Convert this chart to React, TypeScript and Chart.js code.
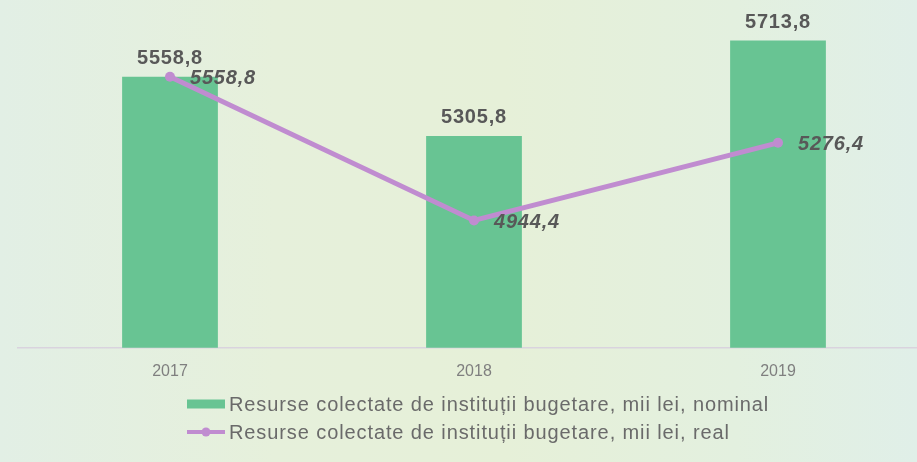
import React, { useEffect, useRef } from "react";
import { Chart, registerables } from "chart.js";

Chart.register(...registerables);

const categories = ["2017", "2018", "2019"];
const nominalValues = [5558.8, 5305.8, 5713.8];
const realValues = [5558.8, 4944.4, 5276.4];
const nominalLabel = "Resurse colectate de instituții bugetare, mii lei, nominal";
const realLabel = "Resurse colectate de instituții bugetare, mii lei, real";

const GREEN = "#68c493";
const PURPLE = "#c08cd0";
const LABEL_COLOR = "#585858";

const fmt = (v: number) => v.toFixed(1).replace(".", ",");

const labelsPlugin = {
  id: "valueLabels",
  afterDatasetsDraw(chart: any) {
    const ctx = chart.ctx;
    ctx.save();
    (ctx as any).letterSpacing = "0.8px";
    const barMeta = chart.getDatasetMeta(1);
    ctx.fillStyle = LABEL_COLOR;
    ctx.font = "bold 20px 'Liberation Sans', Arial, sans-serif";
    ctx.textAlign = "center";
    ctx.textBaseline = "middle";
    barMeta.data.forEach((el: any, i: number) => {
      ctx.fillText(fmt(nominalValues[i]), el.x, el.y - 18);
    });
    const lineMeta = chart.getDatasetMeta(0);
    ctx.font = "italic bold 20px 'Liberation Sans', Arial, sans-serif";
    ctx.textAlign = "left";
    lineMeta.data.forEach((el: any, i: number) => {
      ctx.fillText(fmt(realValues[i]), el.x + 20, el.y + 2);
    });
    ctx.restore();
  },
};

const legendPlugin = {
  id: "customLegend",
  afterDraw(chart: any) {
    const ctx = chart.ctx;
    ctx.save();
    const x0 = 187;
    const y1 = 404;
    const y2 = 432;
    ctx.fillStyle = GREEN;
    ctx.fillRect(x0, y1 - 4.5, 38, 9);
    ctx.strokeStyle = PURPLE;
    ctx.lineWidth = 4;
    ctx.beginPath();
    ctx.moveTo(x0, y2);
    ctx.lineTo(x0 + 38, y2);
    ctx.stroke();
    ctx.fillStyle = PURPLE;
    ctx.beginPath();
    ctx.arc(x0 + 19, y2, 4.5, 0, Math.PI * 2);
    ctx.fill();
    ctx.fillStyle = "#6a6a6a";
    ctx.font = "20px 'Liberation Sans', Arial, sans-serif";
    (ctx as any).letterSpacing = "0.9px";
    ctx.textAlign = "left";
    ctx.textBaseline = "middle";
    ctx.fillText(chart.data.datasets[1].label, x0 + 42, y1 + 1);
    ctx.fillText(chart.data.datasets[0].label, x0 + 42, y2 + 1);
    ctx.restore();
  },
};

export default function App() {
  const ref = useRef<HTMLCanvasElement>(null);
  useEffect(() => {
    if (!ref.current) return;
    const chart = new Chart(ref.current, {
      type: "bar",
      data: {
        labels: categories,
        datasets: [
          {
            type: "line",
            label: realLabel,
            data: realValues,
            borderColor: PURPLE,
            backgroundColor: PURPLE,
            borderWidth: 5,
            pointRadius: 5,
            pointHoverRadius: 5,
            pointBackgroundColor: PURPLE,
            pointBorderWidth: 0,
            tension: 0,
            order: 0,
          } as any,
          {
            type: "bar",
            label: nominalLabel,
            data: nominalValues,
            backgroundColor: GREEN,
            categoryPercentage: 1,
            barPercentage: 0.315,
            order: 1,
          },
        ],
      },
      options: {
        responsive: false,
        animation: false,
        layout: { padding: { left: 18, right: 1.5, top: 18, bottom: 67 } },
        plugins: {
          legend: { display: false },
          tooltip: { enabled: false },
        },
        scales: {
          x: {
            grid: { display: false, drawTicks: false },
            border: { display: true, color: "#d9d3de", width: 1.5 },
            ticks: {
              color: "#7f7f7f",
              padding: 14,
              font: { family: "'Liberation Sans', Arial, sans-serif", size: 16 },
            },
          },
          y: {
            display: false,
            min: 4400,
            max: 5810,
          },
        },
      },
      plugins: [labelsPlugin, legendPlugin],
    });
    return () => chart.destroy();
  }, []);

  return (
    <div
      style={{
        position: "fixed",
        left: 0,
        top: 0,
        width: 917,
        height: 462,
        overflow: "hidden",
        background:
          "linear-gradient(90deg, #e2efe5 0%, #e6f0db 30%, #e6f0d8 55%, #e3f0df 80%, #e0efe8 100%)",
      }}
    >
      <canvas ref={ref} width={935} height={462} style={{ display: "block" }} />
    </div>
  );
}
